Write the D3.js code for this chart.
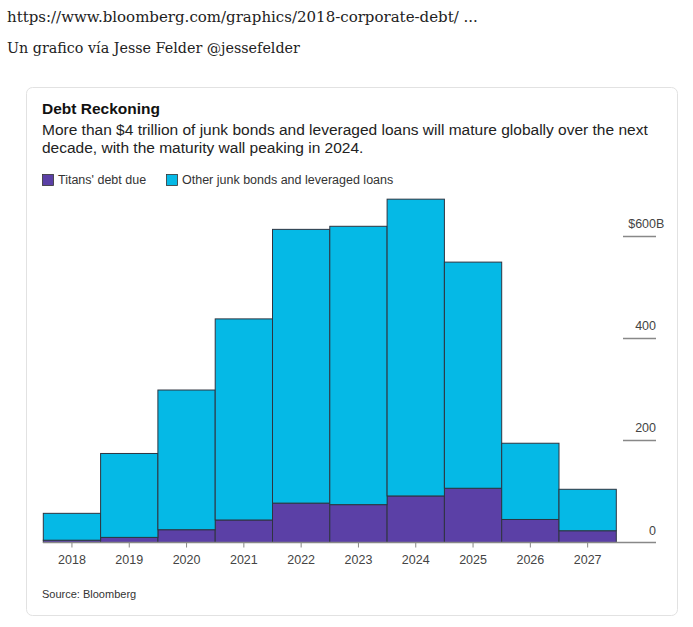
<!DOCTYPE html>
<html><head><meta charset="utf-8">
<script src="https://cdn.jsdelivr.net/npm/d3@7"></script>
<style>body{margin:0;background:#fff}svg{display:block}</style>
</head><body>
<svg id="c" width="693" height="627"></svg>
<script>
const years = ["2018","2019","2020","2021","2022","2023","2024","2025","2026","2027"];
const titans = [4.5, 10, 25, 44, 77, 74, 91, 106, 45, 23];
const others = [52.5, 164, 273, 393, 535, 544, 580, 442, 149, 81];
const yTicks = [0, 200, 400, 600];
const seriesNames = ["Titans' debt due", "Other junk bonds and leveraged loans"];
const colors = ["#5b40a6", "#05b9e6"];

const svg = d3.select("#c");
const serif = "'DejaVu Serif', serif";
const sans = "'Liberation Sans', Arial, sans-serif";

svg.append("text").attr("x",7).attr("y",22).attr("font-family",serif).attr("font-size",15).attr("fill","#222")
  .text("https://www.bloomberg.com/graphics/2018-corporate-debt/ ...");
svg.append("text").attr("x",7).attr("y",53).attr("font-family",serif).attr("font-size",14.3).attr("fill","#222")
  .text("Un grafico vía Jesse Felder @jessefelder");

svg.append("rect").attr("x",26.5).attr("y",87.5).attr("width",651).attr("height",528).attr("rx",6)
  .attr("fill","#fff").attr("stroke","#e2e2e2");

svg.append("text").attr("x",42).attr("y",114).attr("font-family",sans).attr("font-size",15.5).attr("font-weight","bold").attr("fill","#111")
  .text("Debt Reckoning");
svg.append("text").attr("x",42).attr("y",135).attr("font-family",sans).attr("font-size",15.5).attr("fill","#222")
  .text("More than $4 trillion of junk bonds and leveraged loans will mature globally over the next");
svg.append("text").attr("x",42).attr("y",153).attr("font-family",sans).attr("font-size",15.5).attr("fill","#222")
  .text("decade, with the maturity wall peaking in 2024.");

const legX = [42, 166];
seriesNames.forEach((n,i)=>{
  svg.append("rect").attr("x",legX[i]+0.5).attr("y",174.5).attr("width",11).attr("height",11)
    .attr("fill",colors[i]).attr("stroke","#333").attr("stroke-width",0.8);
  svg.append("text").attr("x",legX[i]+16).attr("y",184).attr("font-family",sans).attr("font-size",12.5).attr("fill","#333").text(n);
});

const x = d3.scaleBand().domain(years).range([43.3, 616.3]).padding(0);
const y = d3.scaleLinear().domain([0,600]).range([542.5, 235.5]);

const data = years.map((yr,i)=>({year:yr, titans:titans[i], others:others[i]}));
const stack = d3.stack().keys(["titans","others"])(data);

const g = svg.append("g");
yTicks.forEach(t=>{
  if (t>0) g.append("line").attr("x1",623).attr("x2",656).attr("y1",Math.round(y(t))+0.5).attr("y2",Math.round(y(t))+0.5)
    .attr("stroke","#888").attr("stroke-width",1.5);
  g.append("text").attr("x",656).attr("y",y(t)-8).attr("text-anchor","end")
    .attr("font-family",sans).attr("font-size",12.5).attr("fill","#444").text(t===600?"$600":String(t));
  if (t===600) g.append("text").attr("x",656).attr("y",y(t)-8)
    .attr("font-family",sans).attr("font-size",12.5).attr("fill","#444").text("B");
});

stack.forEach((s,k)=>{
  svg.append("g").selectAll("rect").data(s).join("rect")
    .attr("x",d=>x(d.data.year)).attr("width",x.bandwidth())
    .attr("y",d=>y(d[1])).attr("height",d=>y(d[0])-y(d[1]))
    .attr("fill",colors[k]).attr("stroke","#2e3440").attr("stroke-width",1);
});

const xa = svg.append("g").attr("transform",`translate(0,${y(0)})`)
  .call(d3.axisBottom(x).tickSize(5).tickSizeOuter(0));
xa.select(".domain").remove();
xa.selectAll(".tick line").attr("stroke","#888");
xa.selectAll(".tick text").attr("font-family",sans).attr("font-size",12.5).attr("fill","#444").attr("dy","1.05em");
svg.append("line").attr("x1",43).attr("x2",656).attr("y1",y(0)).attr("y2",y(0)).attr("stroke","#888").attr("stroke-width",1.5);

svg.append("text").attr("x",42).attr("y",598).attr("font-family",sans).attr("font-size",11).attr("fill","#333")
  .text("Source: Bloomberg");
</script>
</body></html>
